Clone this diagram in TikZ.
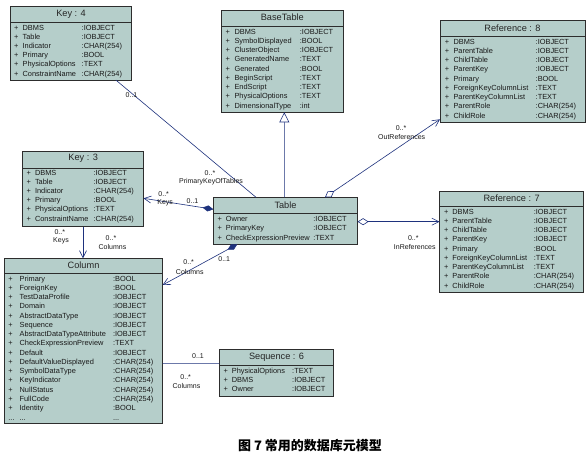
\documentclass[tikz,border=0pt]{standalone}
\usepackage{fontspec}
\setmainfont{Liberation Sans}
\newfontfamily\cjk{Noto Sans CJK SC}
\usetikzlibrary{arrows.meta,fit,calc}
\definecolor{boxfill}{RGB}{181,206,202}
\definecolor{boxline}{RGB}{45,45,45}
\definecolor{link}{RGB}{30,50,125}
\tikzset{
 clsbox/.style={draw=boxline, fill=boxfill, line width=0.7pt, inner sep=0pt, outer sep=0pt},
 clstitle/.style={font=\fontsize{9.2}{10}\selectfont, text=black!85, inner sep=0pt},
 clsrow/.style={font=\fontsize{7.4}{8}\selectfont, inner sep=0pt, anchor=base west, text=black!90},
 lnk/.style={draw=link, line width=0.6pt},
 lbl/.style={font=\fontsize{7}{8}\selectfont, inner sep=0pt, text=black!90},
 barb/.style={-{Straight Barb[length=7pt,width=7pt]}},
 odiam/.style={{Diamond[length=11pt,width=7pt,fill=white]}-{Straight Barb[length=7pt,width=7pt]}},
 fdiam/.style={{Diamond[length=11pt,width=6pt]}-{Straight Barb[length=7pt,width=7pt]}},
 gen/.style={-{Triangle[length=10pt,width=10pt,fill=white]}}
}
\newcommand\umlbox[8]{%
 \node[clsbox, fit={(#2,#3) (#4,#5)}] (#1) {};
 \draw[boxline, line width=0.6pt] (#1.west |- #2,#6) -- (#1.east |- #4,#6);
 \node[clstitle] (#1-title) at ({(#2+#4)/2},#7) {#8};
}
\newcommand\umlrows[7]{%
 \foreach \nm/\ty [count=\i from 0] in {#7} {
   \node[clsrow] (#1-p\i) at (#2,{#5+\i*#6+2.7}) {+};
   \node[clsrow] (#1-n\i) at (#3,{#5+\i*#6+2.7}) {\nm};
   \node[clsrow] (#1-t\i) at (#4,{#5+\i*#6+2.7}) {\ty};
 }}
\begin{document}
\begin{tikzpicture}[x=1pt,y=-1pt]
\useasboundingbox[fill=white] (0,0) rectangle (586,455);

% Key : 4
\umlbox{key4}{10.5}{6.7}{131.5}{80}{22.7}{14}{Key : 4}
\umlrows{key4}{13.8}{22.4}{81.5}{27.3}{9.2}{DBMS/:IOBJECT, Table/:IOBJECT, Indicator/:CHAR(254), Primary/:BOOL, PhysicalOptions/:TEXT, ConstraintName/:CHAR(254)}

% BaseTable
\umlbox{basetable}{221.6}{10.3}{343}{112.3}{26.7}{17.3}{BaseTable}
\umlrows{basetable}{225.3}{234.3}{299.7}{31.3}{9.25}{DBMS/:IOBJECT, SymbolDisplayed/:BOOL, ClusterObject/:IOBJECT, GeneratedName/:TEXT, Generated/:BOOL, BeginScript/:TEXT, EndScript/:TEXT, PhysicalOptions/:TEXT, DimensionalType/:int}

% Reference : 8
\umlbox{ref8}{440}{20.7}{585}{122.3}{36.7}{28.7}{Reference : 8}
\umlrows{ref8}{444.7}{453.3}{535.5}{41.3}{9.25}{DBMS/:IOBJECT, ParentTable/:IOBJECT, ChildTable/:IOBJECT, ParentKey/:IOBJECT, Primary/:BOOL, ForeignKeyColumnList/:TEXT, ParentKeyColumnList/:TEXT, ParentRole/:CHAR(254), ChildRole/:CHAR(254)}

% Key : 3
\umlbox{key3}{22.8}{151.7}{143.5}{226.7}{168}{158.7}{Key : 3}
\umlrows{key3}{26.5}{34.8}{93.4}{172.3}{9.2}{DBMS/:IOBJECT, Table/:IOBJECT, Indicator/:CHAR(254), Primary/:BOOL, PhysicalOptions/:TEXT, ConstraintName/:CHAR(254)}

% Table
\umlbox{table}{213.4}{197.3}{357.6}{244.3}{213.3}{205.3}{Table}
\umlrows{table}{217.5}{225.7}{313.2}{218.3}{9.5}{Owner/:IOBJECT, PrimaryKey/:IOBJECT, CheckExpressionPreview/:TEXT}

% Reference : 7
\umlbox{ref7}{439.5}{191.7}{583.7}{292.3}{206.7}{198.7}{Reference : 7}
\umlrows{ref7}{444}{452.2}{533.6}{211.3}{9.25}{DBMS/:IOBJECT, ParentTable/:IOBJECT, ChildTable/:IOBJECT, ParentKey/:IOBJECT, Primary/:BOOL, ForeignKeyColumnList/:TEXT, ParentKeyColumnList/:TEXT, ParentRole/:CHAR(254), ChildRole/:CHAR(254)}

% Column
\umlbox{column}{4.5}{258.3}{162.6}{423.3}{273.3}{265.7}{Column}
\umlrows{column}{8.2}{19.4}{112.9}{278.3}{9.27}{Primary/:BOOL, ForeignKey/:BOOL, TestDataProfile/:IOBJECT, Domain/:IOBJECT, AbstractDataType/:IOBJECT, Sequence/:IOBJECT, AbstractDataTypeAttribute/:IOBJECT, CheckExpressionPreview/:TEXT, Default/:IOBJECT, DefaultValueDisplayed/:CHAR(254), SymbolDataType/:CHAR(254), KeyIndicator/:CHAR(254), NullStatus/:CHAR(254), FullCode/:CHAR(254), Identity/:BOOL}
\node[clsrow] (column-pe) at (8.2,420) {...};
\node[clsrow] (column-ne) at (19.4,420) {...};
\node[clsrow] (column-te) at (112.9,420) {...};

% Sequence : 6
\umlbox{sequence}{219.4}{349.3}{333.7}{396}{365.3}{357.7}{Sequence : 6}
\umlrows{sequence}{223.5}{231.7}{292}{370.3}{9}{PhysicalOptions/:TEXT, DBMS/:IOBJECT, Owner/:IOBJECT}

% connectors
\draw[lnk] ($(key4.south west)+(105.3,0)$) -- ($(table.north west)+(42.6,0)$);
\draw[lnk,gen] ($(table.north west)+(70.9,0)$) -- ($(basetable.south west)+(62.7,0)$);
\draw[lnk,odiam] ($(table.north west)+(111.6,0)$) -- ($(ref8.south west)+(0,-3)$);
\draw[lnk,odiam] ($(table.north east)+(0,24.4)$) -- ($(ref7.north west)+(0,30)$);
\draw[lnk,fdiam] ($(table.north west)+(0,12)$) -- ($(key3.north east)+(0,46.6)$);
\draw[lnk,fdiam] ($(table.south west)+(23.9,0)$) -- ($(column.north east)+(0,26.7)$);
\draw[lnk,barb] ($(key3.south west)+(60.2,0)$) -- ($(column.north west)+(78.5,0)$);
\draw[lnk] ($(column.north east)+(0,105)$) -- ($(sequence.north west)+(0,14)$);

% labels
\node[lbl] (l1) at (131.5,95) {0..1};
\node[lbl] (l2) at (210,173.3) {0..*};
\node[lbl] (l3) at (211,181.7) {PrimaryKeyOfTables};
\node[lbl] (l4) at (401,128.3) {0..*};
\node[lbl] (l5) at (401.7,137.3) {OutReferences};
\node[lbl] (l6) at (413.3,237.7) {0..*};
\node[lbl] (l7) at (414.8,246.7) {InReferences};
\node[lbl] (l8) at (163.7,194.3) {0..*};
\node[lbl] (l9) at (165.2,203.3) {Keys};
\node[lbl] (l10) at (192.5,200.7) {0..1};
\node[lbl] (l11) at (59.8,232.3) {0..*};
\node[lbl] (l12) at (61,241) {Keys};
\node[lbl] (l13) at (111,238.3) {0..*};
\node[lbl] (l14) at (112.5,246.7) {Columns};
\node[lbl] (l15) at (188.7,262.3) {0..*};
\node[lbl] (l16) at (189.8,271.7) {Columns};
\node[lbl] (l17) at (224.2,258.7) {0..1};
\node[lbl] (l18) at (198,355.7) {0..1};
\node[lbl] (l19) at (185.7,377.3) {0..*};
\node[lbl] (l20) at (186.5,385.7) {Columns};

% caption
\node[font=\cjk\bfseries\fontsize{13}{15}\selectfont, inner sep=0pt] (caption) at (310,445.7) {图 7 常用的数据库元模型};
\end{tikzpicture}
\end{document}
